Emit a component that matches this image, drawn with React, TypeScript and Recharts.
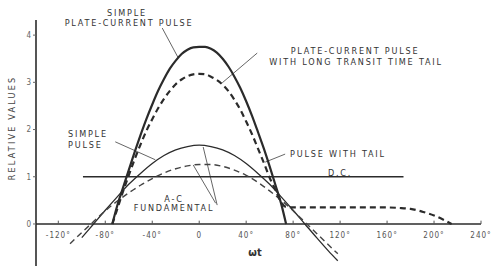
import { LineChart, Line, XAxis, YAxis, ReferenceLine, ReferenceDot } from 'recharts';

// degrees of wt
const pulseAngles = [-74, -70, -65, -60, -55, -50, -45, -40, -35, -30, -25, -20, -15, -10, -5, 0, 5, 10, 15, 20, 25, 30, 35, 40, 45, 50, 55, 60, 65, 70, 74];
const simplePulseValues = [0, 0.37, 0.76, 1.14, 1.52, 1.88, 2.22, 2.53, 2.82, 3.07, 3.29, 3.46, 3.6, 3.69, 3.74, 3.75, 3.75, 3.71, 3.63, 3.5, 3.33, 3.12, 2.88, 2.6, 2.29, 1.95, 1.6, 1.22, 0.82, 0.41, 0];

const tailPulseAngles = [-74, -70, -65, -60, -55, -50, -45, -40, -35, -30, -25, -20, -15, -10, -5, 0, 5, 10, 15, 20, 25, 30, 35, 40, 45, 50, 55, 60, 65, 70, 74, 80, 90, 100, 110, 120, 130, 140, 150, 160, 170, 180, 190, 200, 208, 215];
const tailPulseValues = [0, 0.3, 0.68, 1.03, 1.37, 1.68, 1.97, 2.22, 2.45, 2.65, 2.82, 2.96, 3.06, 3.13, 3.17, 3.18, 3.17, 3.12, 3.05, 2.95, 2.81, 2.63, 2.42, 2.17, 1.9, 1.6, 1.3, 0.98, 0.72, 0.45, 0.36, 0.35, 0.35, 0.35, 0.35, 0.35, 0.35, 0.35, 0.35, 0.35, 0.34, 0.32, 0.26, 0.18, 0.09, 0];

const simpleFundAngles = [-100, -90, -80, -70, -60, -50, -40, -30, -20, -10, 0, 10, 20, 30, 40, 50, 60, 70, 80, 90, 100, 110, 118];
const simpleFundValues = [-0.29, 0, 0.29, 0.57, 0.84, 1.07, 1.28, 1.45, 1.57, 1.64, 1.67, 1.64, 1.57, 1.45, 1.28, 1.07, 0.84, 0.57, 0.29, 0, -0.29, -0.57, -0.78];

const tailFundAngles = [-110, -100, -90, -80, -70, -60, -50, -40, -30, -20, -10, 0, 10, 20, 30, 40, 50, 60, 70, 80, 90, 100, 110, 118];
const tailFundValues = [-0.42, -0.18, 0.05, 0.28, 0.48, 0.66, 0.82, 0.96, 1.08, 1.17, 1.23, 1.26, 1.26, 1.22, 1.14, 1.03, 0.88, 0.7, 0.5, 0.28, 0.04, -0.2, -0.44, -0.63];

const dcAngles = [-99, 174];
const dcValues = [1, 1];

const xTicks = [-120, -80, -40, 0, 40, 80, 120, 160, 200, 240];
const xTickLabels = ['-120°', '-80°', '-40°', '0', '40°', '80°', '120°', '160°', '200°', '240°'];
const yTicks = [0, 1, 2, 3, 4];

// leader lines, [from, to] in (deg, value)
const leaders = [
  [[-31.5, 4.15], [-17.9, 3.52]],
  [[49.4, 3.62], [19.6, 2.99]],
  [[-71.5, 1.74], [-37.4, 1.36]],
  [[15.3, 0.4], [3.4, 1.63]],
  [[14, 0.44], [-5.1, 1.25]],
  [[73.2, 1.48], [56.2, 1.31]],
];

const toPoints = (xs: number[], ys: number[]) => xs.map((x, i) => ({ x, y: ys[i] }));

const simplePulse = toPoints(pulseAngles, simplePulseValues);
const tailPulse = toPoints(tailPulseAngles, tailPulseValues);
const simpleFund = toPoints(simpleFundAngles, simpleFundValues);
const tailFund = toPoints(tailFundAngles, tailFundValues);
const dc = toPoints(dcAngles, dcValues);

const ink = '#2b2b2b';
const font = '"DejaVu Sans Condensed", "DejaVu Sans", sans-serif';

const notes = [
  { text: 'SIMPLE', x: 127, y: 13, anchor: 'middle' },
  { text: 'PLATE-CURRENT PULSE', x: 129, y: 23, anchor: 'middle' },
  { text: 'PLATE-CURRENT PULSE', x: 355, y: 51, anchor: 'middle' },
  { text: 'WITH LONG TRANSIT TIME TAIL', x: 356, y: 62, anchor: 'middle' },
  { text: 'SIMPLE', x: 68, y: 134, anchor: 'start' },
  { text: 'PULSE', x: 68, y: 144.5, anchor: 'start' },
  { text: 'A-C', x: 174, y: 198.5, anchor: 'middle' },
  { text: 'FUNDAMENTAL', x: 174, y: 207.5, anchor: 'middle' },
  { text: 'PULSE WITH TAIL', x: 290, y: 154, anchor: 'start' },
  { text: 'D.C.', x: 340, y: 173, anchor: 'middle' },
];

export default function App() {
  return (
    <div style={{ position: 'absolute', left: 0, top: 0, width: 491, height: 266, background: '#fff' }}>
      <LineChart width={491} height={266} margin={{ top: 20, right: 10, bottom: 0, left: 0 }}>
        <XAxis type="number" dataKey="x" domain={[-139, 240]} hide allowDataOverflow />
        <YAxis
          type="number"
          dataKey="y"
          domain={[-0.89, 4.32]}
          allowDataOverflow
          ticks={yTicks}
          width={36}
          tickSize={3}
          axisLine={{ stroke: ink, strokeWidth: 1.6 }}
          tickLine={{ stroke: '#666' }}
          tick={{ fontSize: 8, fill: '#666', fontFamily: font }}
        />
        <ReferenceLine y={0} stroke={ink} strokeWidth={1.3} />
        {xTicks.map((t) => (
          <ReferenceLine key={'t' + t} segment={[{ x: t, y: 0 }, { x: t, y: 0.07 }]} stroke="#555" strokeWidth={1} />
        ))}
        {xTicks.map((t, i) => (
          <ReferenceDot
            key={'l' + t}
            x={t}
            y={0}
            r={0}
            stroke="none"
            label={{ value: xTickLabels[i], position: 'bottom', offset: 8, fontSize: 8, fill: '#555', fontFamily: font, letterSpacing: 1 }}
          />
        ))}
        {leaders.map((l, i) => (
          <ReferenceLine
            key={'ld' + i}
            segment={[{ x: l[0][0], y: l[0][1] }, { x: l[1][0], y: l[1][1] }]}
            stroke="#555"
            strokeWidth={0.9}
            ifOverflow="visible"
          />
        ))}
        <Line data={dc} dataKey="y" type="linear" stroke={ink} strokeWidth={1.3} dot={false} isAnimationActive={false} />
        <Line data={simpleFund} dataKey="y" type="monotone" stroke={ink} strokeWidth={1.3} dot={false} isAnimationActive={false} />
        <Line data={tailFund} dataKey="y" type="monotone" stroke="#444" strokeWidth={1.4} strokeDasharray="6 4" dot={false} isAnimationActive={false} />
        <Line data={simplePulse} dataKey="y" type="monotone" stroke={ink} strokeWidth={2.2} dot={false} isAnimationActive={false} />
        <Line data={tailPulse} dataKey="y" type="monotone" stroke={ink} strokeWidth={2.2} strokeDasharray="6 4" dot={false} isAnimationActive={false} />
      </LineChart>
      <svg width={491} height={266} style={{ position: 'absolute', left: 0, top: 0, pointerEvents: 'none' }}>
        {notes.map((n, i) => (
          <text
            key={i}
            x={n.x}
            y={n.y}
            textAnchor={n.anchor as 'start' | 'middle'}
            dominantBaseline="central"
            fontFamily={font}
            fontSize={9}
            letterSpacing={1.8}
            fill="#333"
          >
            {n.text}
          </text>
        ))}
        <text x={255} y={252} textAnchor="middle" dominantBaseline="central" fontFamily={font} fontSize={11} fontWeight="bold" fill="#333">
          ωt
        </text>
        <text
          x={12}
          y={128}
          transform="rotate(-90 12 128)"
          textAnchor="middle"
          dominantBaseline="central"
          fontFamily={font}
          fontSize={9}
          letterSpacing={2.2}
          fill="#444"
        >
          RELATIVE VALUES
        </text>
      </svg>
    </div>
  );
}
